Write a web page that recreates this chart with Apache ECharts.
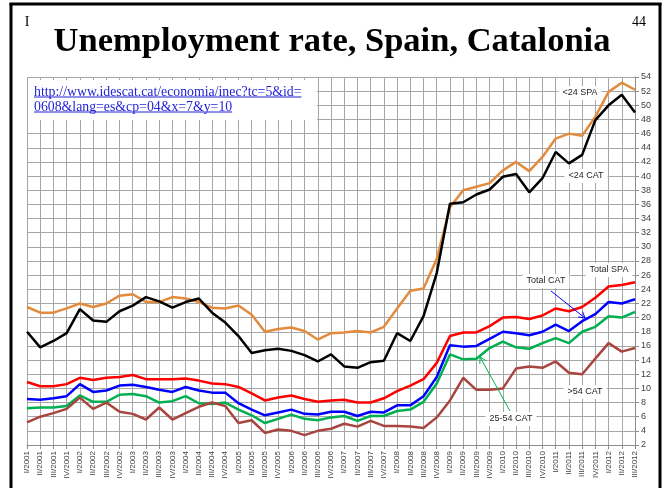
<!DOCTYPE html>
<html>
<head>
<meta charset="utf-8">
<script src="https://cdn.jsdelivr.net/npm/echarts/dist/echarts.min.js"></script>
<style>
  html, body { margin: 0; padding: 0; background: #fff; }
  #chart { width: 667px; height: 488px; }
</style>
</head>
<body>
<div id="chart"></div>
<script>
  // eje x: trimestres I/2001 .. III/2012
  let quarterNames = ['I', 'II', 'III', 'IV']
  let years = [2001, 2002, 2003, 2004, 2005, 2006, 2007, 2008, 2009, 2010, 2011, 2012]
  let quarters = []
  years.forEach(function (y) {
    quarterNames.forEach(function (q) { quarters.push(q + '/' + y) })
  })
  quarters = quarters.slice(0, 47)

  // eje y (derecha)
  let yMin = 2
  let yMax = 54
  let yStep = 2

  // series
  let under24Spa = [21.5, 20.7, 20.7, 21.3, 22.0, 21.5, 22.0, 23.1, 23.3, 22.2,
    22.2, 22.9, 22.7, 22.2, 21.4, 21.3, 21.7, 20.4, 18.0, 18.4,
    18.6, 18.1, 16.9, 17.8, 17.9, 18.1, 17.9, 18.7, 21.3, 23.8,
    24.1, 28.3, 35.6, 38.0, 38.5, 39.0, 40.8, 42.0, 40.7, 42.7,
    45.3, 46.0, 45.7, 48.4, 51.9, 53.2, 52.2]
  let under24Cat = [18.0, 15.8, 16.7, 17.8, 21.2, 19.6, 19.4, 20.9, 21.7, 22.9,
    22.3, 21.4, 22.2, 22.7, 20.7, 19.3, 17.4, 15.0, 15.4, 15.6,
    15.3, 14.7, 13.8, 14.8, 13.1, 12.9, 13.7, 13.9, 17.8, 16.7,
    20.2, 26.3, 36.1, 36.3, 37.4, 38.1, 39.9, 40.3, 37.7, 39.7,
    43.4, 41.8, 43.0, 47.9, 50.0, 51.5, 49.0]
  let totalSpa = [10.9, 10.3, 10.3, 10.6, 11.5, 11.2, 11.5, 11.6, 11.9, 11.3,
    11.3, 11.3, 11.4, 11.1, 10.7, 10.6, 10.2, 9.3, 8.3, 8.7,
    9.0, 8.5, 8.1, 8.3, 8.4, 8.0, 8.0, 8.6, 9.6, 10.4,
    11.3, 13.6, 17.4, 17.9, 17.9, 18.8, 20.0, 20.1, 19.8, 20.3,
    21.3, 20.9, 21.5, 22.8, 24.4, 24.6, 25.0]
  let totalCat = [8.5, 8.4, 8.6, 8.9, 10.6, 9.5, 9.7, 10.4, 10.5, 10.2,
    9.8, 9.5, 10.2, 9.7, 9.4, 9.4, 7.9, 7.0, 6.2, 6.6,
    7.0, 6.4, 6.3, 6.7, 6.7, 6.1, 6.7, 6.6, 7.6, 7.6,
    8.9, 11.6, 16.1, 15.9, 16.0, 17.0, 18.0, 17.8, 17.5, 18.0,
    19.0, 18.1, 19.5, 20.5, 22.2, 22.0, 22.6]
  let age25to54Cat = [7.2, 7.3, 7.3, 7.5, 9.0, 8.1, 8.1, 9.1, 9.2, 8.9,
    8.0, 8.2, 8.9, 7.9, 7.8, 8.0, 7.0, 6.2, 5.1, 5.7,
    6.3, 5.7, 5.5, 5.9, 6.1, 5.4, 6.1, 6.1, 6.8, 7.0,
    8.1, 10.7, 14.8, 14.1, 14.2, 15.7, 16.6, 15.8, 15.6, 16.4,
    17.1, 16.4, 18.0, 18.7, 20.2, 20.0, 20.8]
  let over54Cat = [5.2, 6.0, 6.5, 7.1, 8.7, 7.1, 8.0, 6.7, 6.4, 5.6,
    7.3, 5.6, 6.5, 7.4, 8.0, 7.5, 5.1, 5.5, 3.7, 4.2,
    4.0, 3.4, 4.0, 4.3, 5.0, 4.6, 5.4, 4.7, 4.7, 4.6,
    4.4, 5.9, 8.3, 11.5, 9.8, 9.8, 10.0, 12.8, 13.1, 12.9,
    13.8, 12.2, 12.0, 14.2, 16.4, 15.2, 15.7]

  let linkLines = ['http://www.idescat.cat/economia/inec?tc=5&id=', '0608&lang=es&cp=04&x=7&y=10']

  let noteFont = '9px "Liberation Sans"'
  let linkFont = '13.8px "Liberation Serif"'

  function measure (txt, font) {
    let ctx = document.createElement('canvas').getContext('2d')
    ctx.font = font
    return ctx.measureText(txt).width
  }

  // etiqueta con fondo blanco
  function note (txt, cx, cy) {
    let w = measure(txt, noteFont)
    return [
      { type: 'rect', z: 100, shape: { x: cx - w / 2 - 4, y: cy - 7, width: w + 8, height: 14 }, style: { fill: '#fff' } },
      { type: 'text', z: 101, x: cx, y: cy, style: { text: txt, font: noteFont, fill: '#262626', align: 'center', verticalAlign: 'middle' } }
    ]
  }

  // flecha con punta abierta
  function arrow (x1, y1, x2, y2, color) {
    let dx = x2 - x1
    let dy = y2 - y1
    let len = Math.sqrt(dx * dx + dy * dy)
    let ux = dx / len
    let uy = dy / len
    let hx = x2 - ux * 6
    let hy = y2 - uy * 6
    return [
      { type: 'line', z: 102, shape: { x1: x1, y1: y1, x2: x2, y2: y2 }, style: { stroke: color, lineWidth: 1 } },
      { type: 'polyline', z: 102, shape: { points: [[hx - uy * 3.5, hy + ux * 3.5], [x2, y2], [hx + uy * 3.5, hy - ux * 3.5]] }, style: { stroke: color, lineWidth: 1, fill: null } }
    ]
  }

  let graphics = [
    // marco
    { type: 'line', z: 110, shape: { x1: 9.5, y1: 4, x2: 661.5, y2: 4 }, style: { stroke: '#000', lineWidth: 3 } },
    { type: 'line', z: 110, shape: { x1: 11, y1: 3, x2: 11, y2: 488 }, style: { stroke: '#000', lineWidth: 3 } },
    { type: 'line', z: 110, shape: { x1: 660, y1: 3, x2: 660, y2: 488 }, style: { stroke: '#000', lineWidth: 3 } },
    { type: 'text', z: 110, x: 27, y: 22, style: { text: 'I', font: '14px "Liberation Serif"', fill: '#000', align: 'center', verticalAlign: 'middle' } },
    { type: 'text', z: 110, x: 639, y: 22, style: { text: '44', font: '14px "Liberation Serif"', fill: '#000', align: 'center', verticalAlign: 'middle' } },
    { type: 'text', z: 110, x: 332, y: 42, style: { text: 'Unemployment rate, Spain, Catalonia', font: 'bold 34.5px "Liberation Serif"', fill: '#000', align: 'center', verticalAlign: 'middle' } },
    // caja del enlace
    { type: 'rect', z: 100, shape: { x: 28, y: 80, width: 289, height: 40 }, style: { fill: '#fff' } }
  ]
  linkLines.forEach(function (txt, i) {
    let y = 92 + i * 15
    let w = measure(txt, linkFont)
    graphics.push({ type: 'text', z: 101, x: 34, y: y, style: { text: txt, font: linkFont, fill: '#2323d8', align: 'left', verticalAlign: 'middle' } })
    graphics.push({ type: 'line', z: 101, shape: { x1: 34, y1: y + 5, x2: 34 + w, y2: y + 5 }, style: { stroke: '#2323d8', lineWidth: 1 } })
  })
  graphics = graphics
    .concat(note('<24 SPA', 580, 93))
    .concat(note('<24 CAT', 586, 176))
    .concat(note('Total SPA', 609, 270))
    .concat(note('Total CAT', 546, 281))
    .concat(note('>54 CAT', 585, 392))
    .concat(note('25-54 CAT', 511, 419))
    .concat(arrow(551, 291, 585, 318, '#0000ff'))
    .concat(arrow(510, 411, 480, 357, '#00b050'))

  function lineSeries (name, data, color) {
    return {
      name: name,
      type: 'line',
      data: data,
      symbol: 'none',
      smooth: false,
      lineStyle: { color: color, width: 2.5 },
      itemStyle: { color: color }
    }
  }

  let myChart = echarts.init(document.getElementById('chart'))
  myChart.setOption({
    animation: false,
    backgroundColor: '#fff',
    grid: {
      left: 27,
      right: 32,
      top: 77,
      bottom: 43,
      containLabel: false,
      outerBoundsMode: 'none'
    },
    xAxis: {
      type: 'category',
      data: quarters,
      boundaryGap: false,
      axisLine: { show: true, lineStyle: { color: '#8c8c8c', width: 1 } },
      axisTick: { show: true, interval: 0, length: 4, lineStyle: { color: '#8c8c8c' } },
      axisLabel: { interval: 0, rotate: 90, margin: 6, fontSize: 8, fontFamily: 'Liberation Sans', color: '#404040' },
      splitLine: { show: true, interval: 0, lineStyle: { color: '#a6a6a6', width: 1 } }
    },
    yAxis: {
      type: 'value',
      position: 'right',
      min: yMin,
      max: yMax,
      interval: yStep,
      axisLine: { show: true, lineStyle: { color: '#8c8c8c', width: 1 } },
      axisTick: { show: true, length: 4, lineStyle: { color: '#8c8c8c' } },
      axisLabel: { margin: 6, fontSize: 9, fontFamily: 'Liberation Sans', color: '#404040' },
      splitLine: { show: true, lineStyle: { color: '#a6a6a6', width: 1 } }
    },
    series: [
      lineSeries('<24 SPA', under24Spa, '#e38b3d'),
      lineSeries('<24 CAT', under24Cat, '#000000'),
      lineSeries('Total SPA', totalSpa, '#ff0000'),
      lineSeries('Total CAT', totalCat, '#0000ff'),
      lineSeries('25-54 CAT', age25to54Cat, '#00b050'),
      lineSeries('>54 CAT', over54Cat, '#a8453f')
    ],
    graphic: graphics
  })
</script>
</body>
</html>
